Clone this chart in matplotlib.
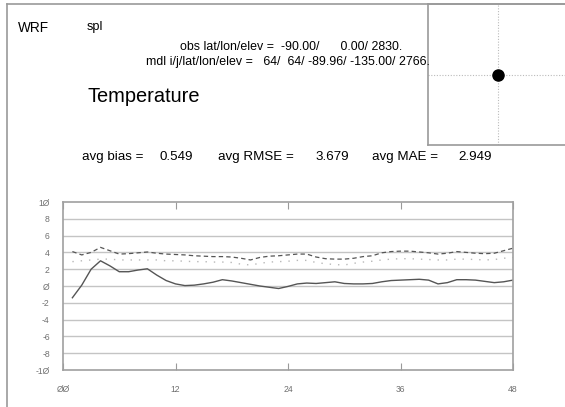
import numpy as np
import matplotlib.pyplot as plt
from matplotlib.lines import Line2D

# данные: часы прогноза и статистика по температуре
hours = list(range(1, 49))
bias = [-1.4, 0.1, 2.0, 3.0, 2.4, 1.7, 1.7, 1.9, 2.05, 1.3, 0.65, 0.25,
        0.05, 0.1, 0.25, 0.45, 0.75, 0.6, 0.4, 0.2, 0.0, -0.15, -0.3, -0.05,
        0.25, 0.35, 0.3, 0.4, 0.5, 0.3, 0.25, 0.25, 0.3, 0.5, 0.65, 0.7,
        0.75, 0.8, 0.7, 0.25, 0.4, 0.75, 0.75, 0.7, 0.55, 0.4, 0.5, 0.7]
rmse = [4.1, 3.7, 4.0, 4.6, 4.2, 3.8, 3.85, 3.95, 4.05, 3.9, 3.8, 3.75,
        3.7, 3.6, 3.55, 3.5, 3.5, 3.45, 3.3, 3.1, 3.4, 3.55, 3.6, 3.7,
        3.8, 3.8, 3.45, 3.25, 3.2, 3.2, 3.3, 3.5, 3.6, 3.95, 4.1, 4.15,
        4.15, 4.05, 3.95, 3.8, 3.9, 4.1, 4.0, 3.9, 3.85, 3.9, 4.2, 4.5]
mae = [2.9, 3.0, 3.1, 3.2, 3.2, 3.1, 3.1, 3.1, 3.1, 3.1, 3.0, 3.0,
       2.95, 2.9, 2.9, 2.85, 2.85, 2.8, 2.6, 2.5, 2.7, 2.85, 2.9, 2.95,
       3.05, 3.05, 2.8, 2.65, 2.55, 2.5, 2.7, 2.85, 2.95, 3.1, 3.2, 3.25,
       3.25, 3.2, 3.15, 3.1, 3.1, 3.2, 3.2, 3.15, 3.1, 3.15, 3.3, 3.4]

x_ticks = [0, 12, 24, 36, 48]
y_ticks = [-10, -8, -6, -4, -2, 0, 2, 4, 6, 8, 10]

model = 'WRF'
station = 'spl'
variable = 'Temperature'
obs_lat, obs_lon, obs_elev = -90.00, 0.00, 2830.
mdl_i, mdl_j, mdl_lat, mdl_lon, mdl_elev = 64, 64, -89.96, -135.00, 2766.
avg_bias, avg_rmse, avg_mae = 0.549, 3.679, 2.949

W, H = 565, 407
plt.rcParams['font.family'] = ['Liberation Sans', 'DejaVu Sans']
fig = plt.figure(figsize=(W / 100, H / 100), dpi=100)


def fx(px):
    return px / W


def fy(py):
    return 1 - py / H


# рамка страницы
fig.add_artist(Line2D([fx(7), fx(7)], [fy(4), 0], color='#9a9a9a', lw=1.2))
fig.add_artist(Line2D([fx(7), 1], [fy(4), fy(4)], color='#9a9a9a', lw=1.2))

# заголовки
fig.text(fx(18), fy(28), model, fontsize=9.8, va='center')
fig.text(fx(87), fy(27), station, fontsize=9.2, va='center')
line1 = f'obs lat/lon/elev =  {obs_lat:.2f}/      {obs_lon:.2f}/ {obs_elev:.0f}.'
line2 = (f'mdl i/j/lat/lon/elev =  {mdl_i:3d}/ {mdl_j:3d}/ '
         f'{mdl_lat:.2f}/ {mdl_lon:.2f}/ {mdl_elev:.0f}.')
fig.text(fx(291), fy(47), line1, fontsize=8.9, va='center', ha='center')
fig.text(fx(288), fy(62), line2, fontsize=8.9, va='center', ha='center')
fig.text(fx(87), fy(97), variable, fontsize=14.4, va='center')

fig.text(fx(82), fy(157), 'avg bias =', fontsize=9.6, va='center')
fig.text(fx(160), fy(157), f'{avg_bias:.3f}', fontsize=9.6, va='center')
fig.text(fx(218), fy(157), 'avg RMSE =', fontsize=9.6, va='center')
fig.text(fx(315), fy(157), f'{avg_rmse:.3f}', fontsize=9.6, va='center')
fig.text(fx(372), fy(157), 'avg MAE =', fontsize=9.6, va='center')
fig.text(fx(458), fy(157), f'{avg_mae:.3f}', fontsize=9.6, va='center')

# карта с положением станции
mx = fig.add_axes([fx(428), fy(145), fx(140), 141 / H])
mx.set_xlim(obs_lon - 1, obs_lon + 1)
mx.set_ylim(obs_lat - 1, obs_lat + 1)
mx.axvline(obs_lon, color='#bbbbbb', lw=0.8, ls=(0, (1, 1.5)))
mx.axhline(obs_lat, color='#bbbbbb', lw=0.8, ls=(0, (1, 1.5)))
mx.plot([obs_lon], [obs_lat], 'o', color='black', ms=8)
mx.set_xticks([])
mx.set_yticks([])
for s in mx.spines.values():
    s.set_color('#9a9a9a')
    s.set_linewidth(1.2)

# основной график
ax = fig.add_axes([fx(63), fy(370), 450 / W, 168 / H])
ax.plot(hours, mae, color='#b8b8b8', lw=1.0, ls=(0, (1, 5)))
ax.plot(hours, rmse, color='#555555', lw=0.9, ls=(0, (3.5, 2.5)))
ax.plot(hours, bias, color='#555555', lw=1.0)

ax.set_xlim(0, 48)
ax.set_ylim(-10, 10)
ax.set_xticks(x_ticks)
ax.set_xticklabels([f'{h:02d}'.replace('0', 'Ø') for h in x_ticks])
ax.set_yticks(y_ticks)
ax.set_yticklabels([str(v).replace('0', 'Ø') for v in y_ticks])
for v in y_ticks[1:-1]:
    ax.axhline(v, color='#c4c4c4', lw=1.0, zorder=0)

ax.tick_params(axis='x', direction='in', length=5, width=0.8, color='#9a9a9a',
               top=True, labelsize=6.2, labelcolor='#707070', pad=11)
ax.tick_params(axis='y', direction='in', length=0, labelsize=6.2,
               labelcolor='#707070', pad=9.5)
for s in ax.spines.values():
    s.set_color('#a0a0a0')
    s.set_linewidth(1.2)

plt.savefig('out.png', dpi=100)
